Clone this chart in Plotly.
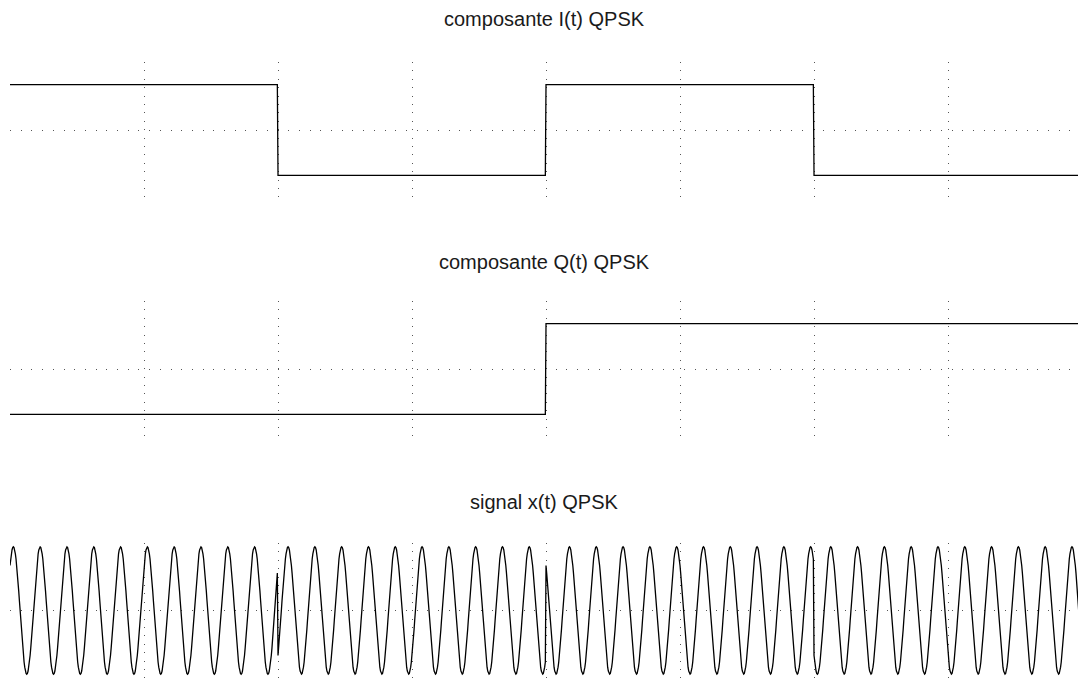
import numpy as np
import plotly.graph_objects as go
from plotly.subplots import make_subplots

# QPSK symbol streams (one value per symbol, symbol duration = 2 time units)
I_symbols = [1, -1, 1, -1]
Q_symbols = [-1, -1, 1, 1]
symbol_duration = 2.0
carrier_cycles_per_symbol = 10
samples_per_symbol = 400

titles = ["composante I(t) QPSK", "composante Q(t) QPSK", "signal x(t) QPSK"]

# Time base and baseband waveforms
n_sym = len(I_symbols)
t = np.arange(n_sym * samples_per_symbol) * (symbol_duration / samples_per_symbol)
I_t = np.repeat(np.array(I_symbols, dtype=float), samples_per_symbol)
Q_t = np.repeat(np.array(Q_symbols, dtype=float), samples_per_symbol)

# Modulated signal
fc = carrier_cycles_per_symbol / symbol_duration
x_t = I_t * np.cos(2 * np.pi * fc * t) - Q_t * np.sin(2 * np.pi * fc * t)

W, H = 1078, 678
fig = make_subplots(rows=3, cols=1)

for row, y in enumerate([I_t, Q_t, x_t], start=1):
    fig.add_trace(
        go.Scatter(x=t, y=y, mode="lines",
                   line=dict(color="black", width=1.3),
                   showlegend=False, hoverinfo="skip"),
        row=row, col=1)

# pixel extents (top, bottom) of each panel
panels = [(62, 198), (301, 437), (543, 678)]
for i, (top, bot) in enumerate(panels, start=1):
    key = "" if i == 1 else str(i)
    fig.layout["yaxis" + key].domain = [1 - bot / H, 1 - top / H]
    fig.layout["xaxis" + key].domain = [0, 1]

fig.update_xaxes(range=[0, 7.97], tickvals=[1, 2, 3, 4, 5, 6, 7],
                 showticklabels=False, ticks="", showline=False, zeroline=False,
                 showgrid=True, gridcolor="#555555", gridwidth=1,
                 griddash="1px,7.4px")
fig.update_yaxes(range=[-1.5, 1.5], tickvals=[0],
                 showticklabels=False, ticks="", showline=False, zeroline=False,
                 showgrid=True, gridcolor="#555555", gridwidth=1,
                 griddash="1px,9.7px")

title_y = [19, 262, 502]
for txt, yp in zip(titles, title_y):
    fig.add_annotation(text=txt, x=0.5, y=1 - yp / H, xref="paper", yref="paper",
                       xanchor="center", yanchor="middle", showarrow=False,
                       font=dict(family="Liberation Sans, Arial", size=20, color="#1a1a1a"))

fig.update_layout(width=W, height=H, margin=dict(l=10, r=0, t=0, b=0),
                  paper_bgcolor="white", plot_bgcolor="white")

fig.write_html("out.html")
